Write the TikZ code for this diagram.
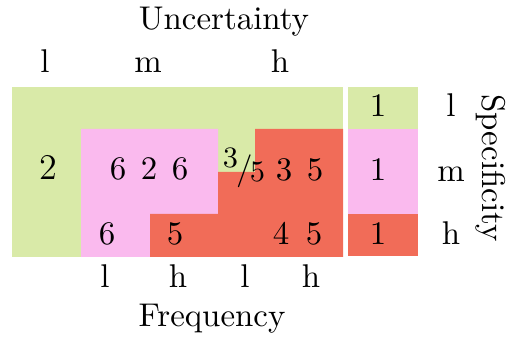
\documentclass[tikz,border=0pt]{standalone}
\definecolor{lowgreen}{RGB}{217,234,168}
\definecolor{midpink}{RGB}{250,186,238}
\definecolor{highred}{RGB}{241,108,88}
\newcommand{\slashfrac}[2]{\raisebox{0.9ex}{\small #1}\kern-0.6pt/\kern-0.8pt\raisebox{-0.1ex}{\small #2}}
\begin{document}
\begin{tikzpicture}[x=0.304pt, y=-0.304pt,
    lbl/.style={anchor=base, inner sep=0pt},
    cnt/.style={anchor=base, inner sep=0pt}]
        \useasboundingbox (0,0) rectangle (510,340);

        % Main block
        \begin{scope}
            \fill[lowgreen] (12,87) rectangle (343,257);
            \fill[midpink] (81,129) -- (218,129) -- (218,214) -- (150,214) -- (150,257) -- (81,257) -- cycle;
            \fill[highred] (150,257) -- (150,214) -- (218,214) -- (218,172) -- (255,172) -- (255,129) -- (343,129) -- (343,257) -- cycle;

            \node[cnt, font=\fontsize{11}{13}\selectfont] (u-l) at (48,180) {2};
            \node[cnt] (um-lm1) at (118,180) {6};
            \node[cnt] (um-lm2) at (149,180) {2};
            \node[cnt] (um-lm3) at (180,180) {6};
            \node[cnt] (uh-lm1) at (244,180) {\slashfrac{3}{5}};
            \node[cnt] (uh-lm2) at (284,181) {3};
            \node[cnt] (uh-lm3) at (315,181) {5};
            \node[cnt] (um-h1) at (107,245) {6};
            \node[cnt] (um-h2) at (175,245) {5};
            \node[cnt] (uh-h1) at (281,245) {4};
            \node[cnt] (uh-h2) at (314,245) {5};
        \end{scope}

        % Specificity column
        \begin{scope}
            \fill[lowgreen] (348,87) rectangle (418,129);
            \fill[midpink] (348,129) rectangle (418,214);
            \fill[highred] (348,214) rectangle (418,256);
            \node[cnt] (s-l) at (378,117) {1};
            \node[cnt] (s-m) at (378,181) {1};
            \node[cnt] (s-h) at (378,245) {1};
        \end{scope}

        % Axis labels
        \node[lbl] (unc) at (224,30) {Uncertainty};
        \node[lbl] (unc-l) at (45,73) {l};
        \node[lbl] (unc-m) at (148,73) {m};
        \node[lbl] (unc-h) at (280,73) {h};
        \node[lbl] (frq-l1) at (105,288) {l};
        \node[lbl] (frq-h1) at (178,288) {h};
        \node[lbl] (frq-l2) at (245,288) {l};
        \node[lbl] (frq-h2) at (311,288) {h};
        \node[lbl] (frq) at (212,327) {Frequency};
        \node[lbl] (spc-l) at (451,117) {l};
        \node[lbl] (spc-m) at (451,182) {m};
        \node[lbl] (spc-h) at (451,245) {h};
        \node[lbl, rotate=-90] (spc) at (482,168) {Specificity};
    \end{tikzpicture}
\end{document}
